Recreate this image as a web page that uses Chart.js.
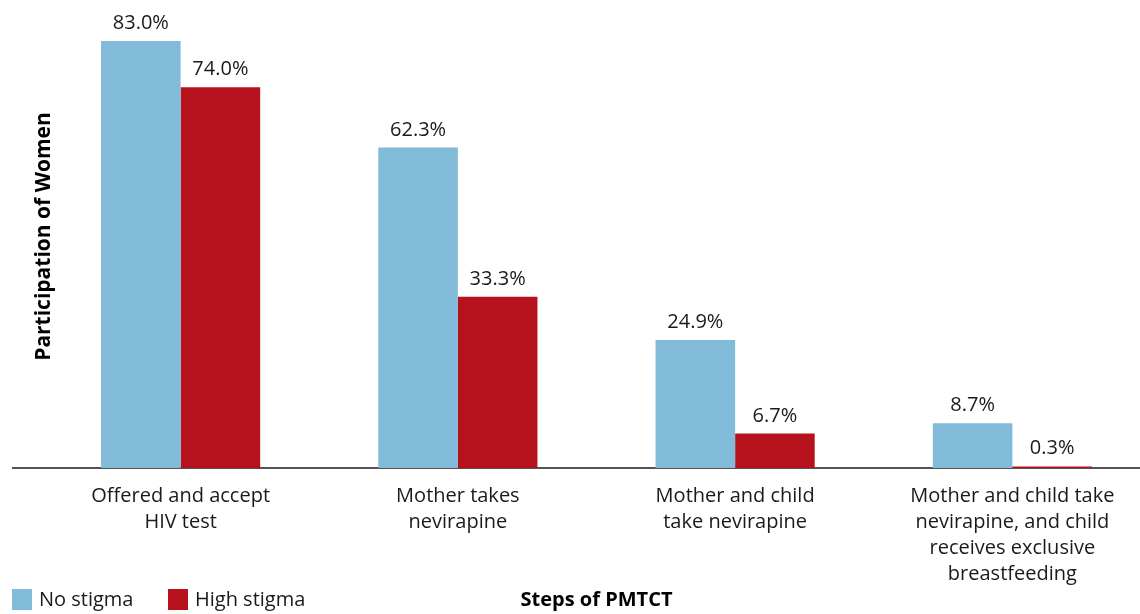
<!DOCTYPE html>
<html>
<head>
<meta charset="utf-8">
<script src="https://cdn.jsdelivr.net/npm/chart.js@4.4.1/dist/chart.umd.min.js"></script>
<style>
  html, body { margin: 0; padding: 0; background: #fff; overflow: hidden; }
  #wrap { width: 1140px; height: 614px; overflow: hidden; }
</style>
</head>
<body>
<div id="wrap"><canvas id="chart" width="1151" height="614"></canvas></div>
<script>
// dados
const categories = [
    ['Offered and accept', 'HIV test'],
    ['Mother takes', 'nevirapine'],
    ['Mother and child', 'take nevirapine'],
    ['Mother and child take', 'nevirapine, and child', 'receives exclusive', 'breastfeeding']
];
const noStigma = [83.0, 62.3, 24.9, 8.7];
const highStigma = [74.0, 33.3, 6.7, 0.3];
const seriesNames = ['No stigma', 'High stigma'];
const seriesColors = ['#82bad9', '#b5121e'];

const textColor = '#1a1a1a';
const fontFamily = '"Open Sans", "Noto Sans", sans-serif';

Chart.defaults.font.family = fontFamily;
Chart.defaults.color = textColor;

// linha de base que passa por baixo das barras
const baseline = {
    id: 'baseline',
    beforeDatasetsDraw(chart) {
        const { ctx, chartArea } = chart;
        ctx.save();
        ctx.strokeStyle = textColor;
        ctx.lineWidth = 1.5;
        ctx.beginPath();
        ctx.moveTo(12, chartArea.bottom);
        ctx.lineTo(chartArea.right, chartArea.bottom);
        ctx.stroke();
        ctx.restore();
    }
};

// rótulos "XX.X%" em cima de cada barra
const valueLabels = {
    id: 'valueLabels',
    afterDatasetsDraw(chart) {
        const { ctx } = chart;
        ctx.save();
        ctx.font = '20px ' + fontFamily;
        ctx.fillStyle = textColor;
        ctx.textAlign = 'center';
        ctx.textBaseline = 'alphabetic';
        chart.data.datasets.forEach((ds, i) => {
            chart.getDatasetMeta(i).data.forEach((bar, j) => {
                ctx.fillText(ds.data[j].toFixed(1) + '%', bar.x, bar.y - 12);
            });
        });
        ctx.restore();
    }
};

// legenda no canto inferior esquerdo
const bottomLegend = {
    id: 'bottomLegend',
    afterDraw(chart) {
        const { ctx } = chart;
        const boxX = [12, 168];
        ctx.save();
        ctx.font = '20px ' + fontFamily;
        ctx.textBaseline = 'middle';
        ctx.textAlign = 'left';
        chart.data.datasets.forEach((ds, i) => {
            ctx.fillStyle = ds.backgroundColor;
            ctx.fillRect(boxX[i], 589, 20, 21);
            ctx.fillStyle = textColor;
            ctx.fillText(ds.label, boxX[i] + 27, 600);
        });
        ctx.restore();
    }
};

new Chart(document.getElementById('chart'), {
    type: 'bar',
    data: {
        labels: categories,
        datasets: [
            { label: seriesNames[0], data: noStigma, backgroundColor: seriesColors[0] },
            { label: seriesNames[1], data: highStigma, backgroundColor: seriesColors[1] }
        ]
    },
    options: {
        responsive: false,
        animation: false,
        devicePixelRatio: 1,
        layout: { padding: { top: 5, right: 0, bottom: 0, left: 0 } },
        datasets: {
            bar: { barPercentage: 1, categoryPercentage: 0.574 }
        },
        plugins: {
            legend: { display: false },
            tooltip: { enabled: false }
        },
        scales: {
            x: {
                grid: { display: false },
                border: { display: false },
                ticks: {
                    color: textColor,
                    font: { size: 20, lineHeight: 1.3 },
                    padding: 7,
                    maxRotation: 0,
                    autoSkip: false
                },
                title: {
                    display: true,
                    text: 'Steps of PMTCT',
                    color: '#000',
                    font: { size: 20, weight: 'bold' },
                    padding: { top: 0, bottom: 2 }
                },
                afterFit(scale) { scale.height = 146; }
            },
            y: {
                min: 0,
                max: 90,
                grid: { display: false },
                border: { display: false },
                ticks: { display: false },
                title: {
                    display: true,
                    text: 'Participation of Women',
                    color: '#000',
                    font: { size: 21, weight: 'bold' },
                    padding: { top: 31, bottom: 0 }
                },
                afterFit(scale) { scale.width = 42; }
            }
        }
    },
    plugins: [baseline, valueLabels, bottomLegend]
});
</script>
</body>
</html>
